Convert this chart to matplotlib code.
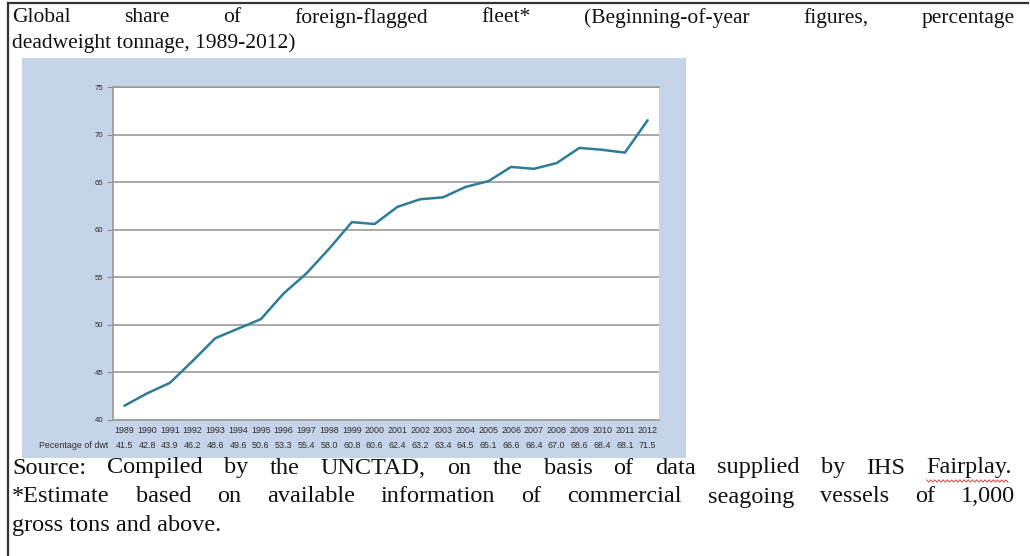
import matplotlib
matplotlib.use("Agg")
import matplotlib.pyplot as plt
from matplotlib.patches import Rectangle
from matplotlib.lines import Line2D
import numpy as np

years = ["1989", "1990", "1991", "1992", "1993", "1994", "1995", "1996", "1997", "1998",
         "1999", "2000", "2001", "2002", "2003", "2004", "2005", "2006", "2007", "2008",
         "2009", "2010", "2011", "2012"]
share = [41.5, 42.8, 43.9, 46.2, 48.6, 49.6, 50.6, 53.3, 55.4, 58.0,
         60.8, 60.6, 62.4, 63.2, 63.4, 64.5, 65.1, 66.6, 66.4, 67.0,
         68.6, 68.4, 68.1, 71.5]
yticks = [40, 45, 50, 55, 60, 65, 70, 75]
row_label = "Pecentage of dwt"

title_lines = ["Global share of foreign-flagged fleet* (Beginning-of-year figures, percentage",
               "deadweight tonnage, 1989-2012)"]
note_lines = ["Source: Compiled by the UNCTAD, on the basis of data supplied by IHS Fairplay.",
              "*Estimate based on available information of commercial seagoing vessels of 1,000",
              "gross tons and above."]

W, H = 1030, 556
fig = plt.figure(figsize=(W / 100, H / 100), dpi=100)
fig.patch.set_facecolor("white")


def fx(px):
    return px / W


def fy(py):
    return 1 - py / H


# outer frame lines
fig.add_artist(Line2D([fx(8), fx(8)], [fy(3), fy(556)], color="#333333", lw=1.6))
fig.add_artist(Line2D([fx(8), fx(1028)], [fy(3), fy(3)], color="#333333", lw=1.6))

# blue chart panel
fig.add_artist(Rectangle((fx(22), fy(458)), fx(686) - fx(22), fy(58) - fy(458),
                         transform=fig.transFigure, facecolor="#c6d4ea", edgecolor="none", zorder=0))

small = dict(fontsize=6.4, color="#2b2b2b", family="Liberation Sans")

L, R, T, B = 113, 659, 87, 420
ax = fig.add_axes([fx(L), fy(B), fx(R) - fx(L), fy(T) - fy(B)])
ax.set_facecolor("white")
x = np.arange(len(years))
ax.plot(x, share, color="#2d7d98", lw=1.8, solid_capstyle="round", zorder=3)
ax.set_xlim(-0.5, len(years) - 0.5)
ax.set_ylim(40, 75)
ax.set_yticks(yticks)
ax.set_yticklabels([str(v) for v in yticks], fontsize=5.6, color="#2b2b2b", family="Liberation Sans")
ax.yaxis.grid(True, color="#9a9a9a", lw=1.2)
ax.set_axisbelow(True)
ax.tick_params(axis="y", length=4, width=0.8, color="#8c8c8c", pad=3)
ax.set_xticks(x)
ax.set_xticklabels(years, **small)
ax.tick_params(axis="x", length=0, pad=4)
ax.spines["right"].set_visible(False)
for s in ["left", "bottom", "top"]:
    ax.spines[s].set_color("#9a9a9a")
    ax.spines[s].set_linewidth(1.2)

tr = ax.get_xaxis_transform()
yrow = (fy(445) - fy(B)) / (fy(T) - fy(B))
for xi, v in zip(x, share):
    ax.text(xi, yrow, f"{v:.1f}", transform=tr, ha="center", va="center", clip_on=False, **small)
fig.text(fx(108), fy(445), row_label, ha="right", va="center", **small)

# text blocks
renderer = fig.canvas.get_renderer()


def justified(line, y, x0, x1, size):
    words = line.split(" ")
    objs = [fig.text(0, fy(y), w, fontsize=size, family="Liberation Serif", color="#111111",
                     va="center", ha="left") for w in words]
    widths = [o.get_window_extent(renderer).width for o in objs]
    gap = (x1 - x0 - sum(widths)) / (len(words) - 1)
    cur = x0
    pos = []
    for o, wd in zip(objs, widths):
        o.set_x(fx(cur))
        pos.append((cur, wd))
        cur += wd + gap
    return words, pos


justified(title_lines[0], 18, 12, 1015, 15.5)
fig.text(fx(12), fy(43), title_lines[1], fontsize=15.5, family="Liberation Serif",
         color="#111111", va="center", ha="left")

words, pos = justified(note_lines[0], 468, 12, 1012, 17.5)
justified(note_lines[1], 497, 12, 1015, 17.5)
fig.text(fx(12), fy(526), note_lines[2], fontsize=17.5, family="Liberation Serif",
         color="#111111", va="center", ha="left")

# spell-check wavy underline under "Fairplay"
idx = [i for i, w in enumerate(words) if w.startswith("Fairplay")][0]
xs0, wd = pos[idx]
xs = np.linspace(xs0, xs0 + wd - 4, 40)
ys = 481 + 1.2 * np.where(np.arange(40) % 2 == 0, -1, 1)
fig.add_artist(Line2D(fx(xs), fy(ys), color="#d03030", lw=0.6))

fig.savefig("out.png", dpi=100)
